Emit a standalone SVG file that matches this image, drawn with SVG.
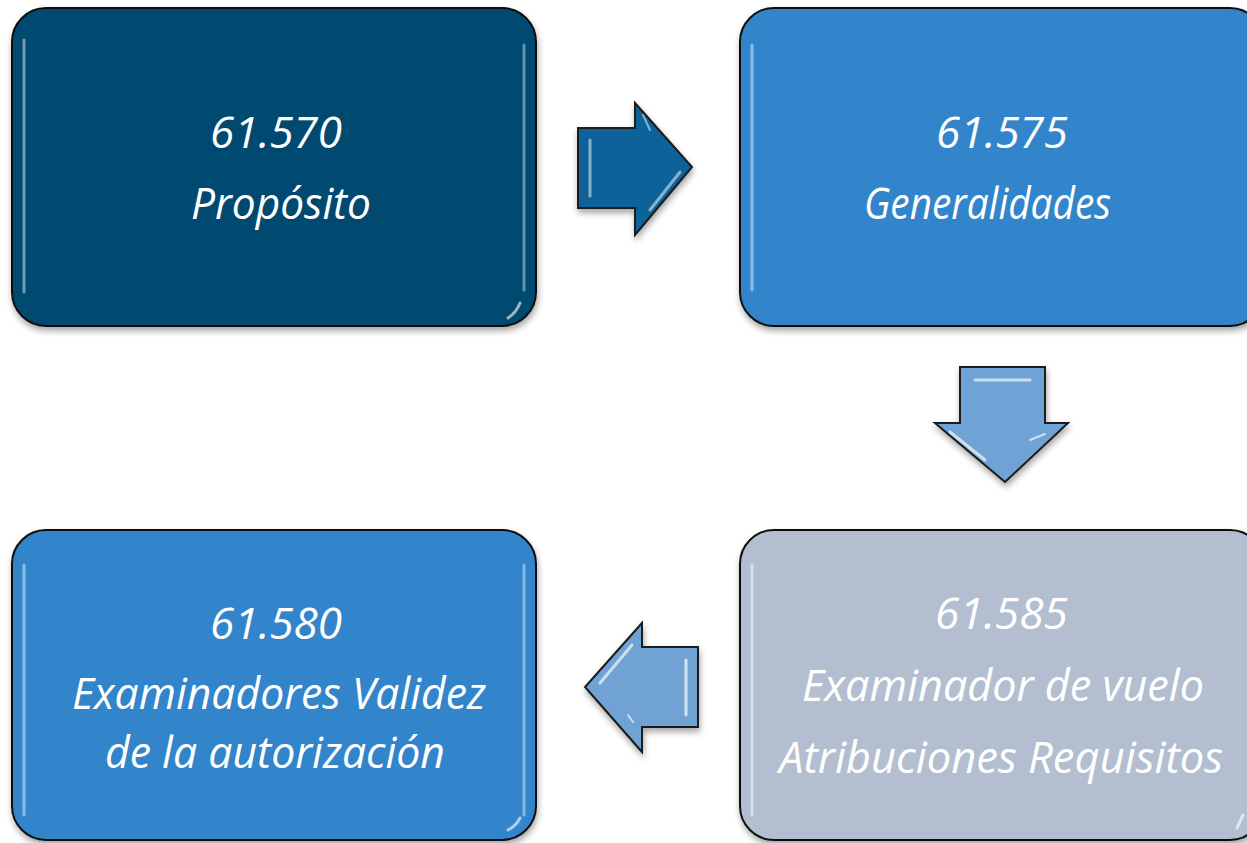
<svg xmlns="http://www.w3.org/2000/svg" width="1247" height="843" viewBox="0 0 1247 843">
<style>
.box{stroke:#111;stroke-width:2}
.hl{fill:none;stroke:#ffffff;stroke-linecap:round}
.t{font-family:"Open Sans",Lato,"DejaVu Sans",sans-serif;font-style:italic;font-size:43px;fill:#ffffff}
.arr{stroke:#1a1a1a;stroke-width:2;stroke-linejoin:miter}
</style>
<defs>
<filter id="sh" x="-10%" y="-10%" width="120%" height="125%">
<feDropShadow dx="1" dy="4" stdDeviation="3" flood-color="#000" flood-opacity="0.35"/>
</filter>
</defs>

<g id="node-61570">
<rect class="box" x="12" y="8" width="524" height="318" rx="34" fill="#024A6F" filter="url(#sh)"/>
<path class="hl" d="M24 40 L24 292" stroke-width="3" opacity="0.45"/>
<path class="hl" d="M524 45 L524 290" stroke-width="3" opacity="0.4"/>
<path class="hl" d="M520 303 Q516 313 508 318" stroke-width="3" opacity="0.6"/>
<text class="t" x="210" y="148" textLength="132" lengthAdjust="spacingAndGlyphs">61.570</text>
<text class="t" x="191" y="219" textLength="180" lengthAdjust="spacingAndGlyphs">Propósito</text>
</g>

<g id="node-61575">
<rect class="box" x="740" y="8" width="524" height="318" rx="34" fill="#3185CA" filter="url(#sh)"/>
<path class="hl" d="M752 45 L752 290" stroke-width="3" opacity="0.45"/>
<text class="t" x="936" y="148" textLength="132" lengthAdjust="spacingAndGlyphs">61.575</text>
<text class="t" x="864" y="219" textLength="247" lengthAdjust="spacingAndGlyphs">Generalidades</text>
</g>

<g id="node-61580">
<rect class="box" x="12" y="530" width="524" height="310" rx="34" fill="#3185CA" filter="url(#sh)"/>
<path class="hl" d="M24 565 L24 815" stroke-width="3" opacity="0.45"/>
<path class="hl" d="M524 565 L524 815" stroke-width="3" opacity="0.4"/>
<path class="hl" d="M520 818 Q516 826 508 830" stroke-width="3" opacity="0.6"/>
<text class="t" x="210" y="639" textLength="132" lengthAdjust="spacingAndGlyphs">61.580</text>
<text class="t" x="72" y="709" textLength="414" lengthAdjust="spacingAndGlyphs">Examinadores Validez</text>
<text class="t" x="105" y="768" textLength="340" lengthAdjust="spacingAndGlyphs">de la autorización</text>
</g>

<g id="node-61585">
<rect class="box" x="740" y="530" width="524" height="310" rx="34" fill="#B3BFD0" filter="url(#sh)"/>
<path class="hl" d="M752 565 L752 815" stroke-width="3" opacity="0.5"/>
<path class="hl" d="M1243 815 L1237 828" stroke-width="3" opacity="0.6"/>
<text class="t" x="935" y="629" textLength="133" lengthAdjust="spacingAndGlyphs">61.585</text>
<text class="t" x="802" y="701" textLength="402" lengthAdjust="spacingAndGlyphs">Examinador de vuelo</text>
<text class="t" x="779" y="773" textLength="444" lengthAdjust="spacingAndGlyphs">Atribuciones Requisitos</text>
</g>

<g id="connectors">
<g id="arrow-right">
<path class="arr" d="M578 128 L635 128 L635 103 L692 167 L635 235 L635 208 L578 208 Z" fill="#0B629A" filter="url(#sh)"/>
<path class="hl" d="M590 140 L590 196" stroke-width="3" opacity="0.5"/>
<path class="hl" d="M643 115 L650 130" stroke-width="2" opacity="0.5"/>
<path class="hl" d="M680 172 L650 210" stroke-width="3" opacity="0.5"/>
</g>
<g id="arrow-down">
<path class="arr" d="M960 367 L1045 367 L1045 423 L1068 423 L1005 482 L935 423 L960 423 Z" fill="#6FA3D5" filter="url(#sh)"/>
<path class="hl" d="M975 380 L1030 380" stroke-width="3" opacity="0.65"/>
<path class="hl" d="M950 432 L985 460" stroke-width="3" opacity="0.65"/>
<path class="hl" d="M1030 440 L1045 434" stroke-width="2" opacity="0.65"/>
</g>
<g id="arrow-left">
<path class="arr" d="M698 647 L642 647 L642 623 L585 687 L642 752 L642 727 L698 727 Z" fill="#6FA2D3" filter="url(#sh)"/>
<path class="hl" d="M686 660 L686 715" stroke-width="3" opacity="0.7"/>
<path class="hl" d="M632 645 L600 683" stroke-width="3" opacity="0.65"/>
<path class="hl" d="M628 715 L633 722" stroke-width="2" opacity="0.65"/>
</g>
</g>
</svg>
